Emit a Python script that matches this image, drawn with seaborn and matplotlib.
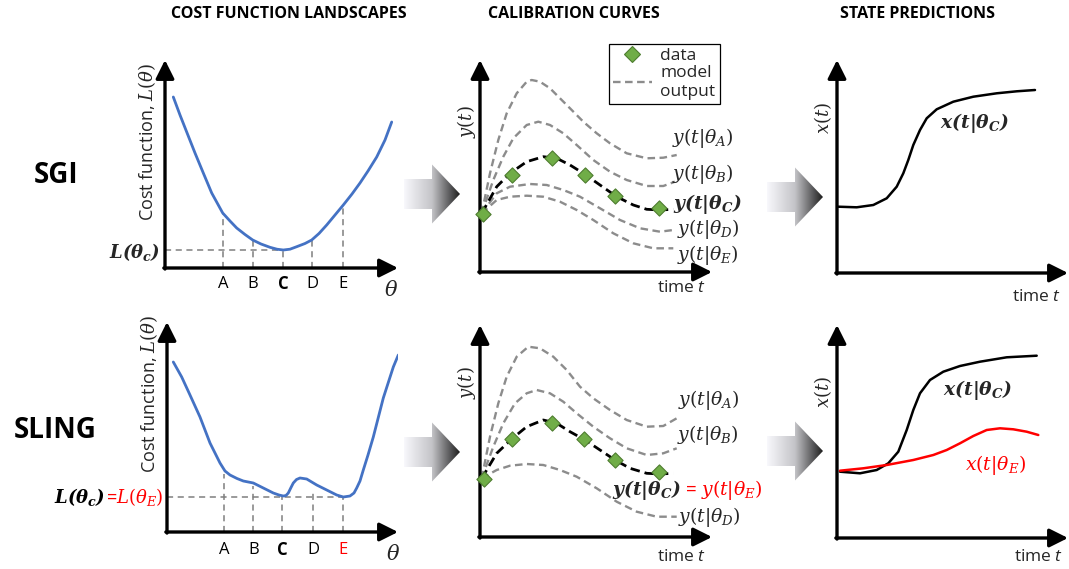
import numpy as np
import matplotlib.pyplot as plt
import seaborn as sns
from matplotlib.colors import LinearSegmentedColormap
from matplotlib.patches import Polygon
from matplotlib.lines import Line2D

sns.set_theme(style='white')
plt.rcParams['font.family'] = ['Open Sans', 'DejaVu Sans']
plt.rcParams['mathtext.fontset'] = 'custom'
plt.rcParams['mathtext.rm'] = 'DejaVu Serif'
plt.rcParams['mathtext.it'] = 'DejaVu Serif:italic'
plt.rcParams['mathtext.bf'] = 'DejaVu Serif:italic:bold'
plt.rcParams['mathtext.sf'] = 'Open Sans:italic'

BLUE = '#4472C4'
GRAY = '#8c8c8c'
GREEN = '#70AD47'
RED = '#ff0000'

# ---------------- data (schematic values) ----------------
# SGI cost landscape
sgi_theta = [0.83, 1.5, 2.17, 3.0, 3.83, 4.67, 5.77, 6.5, 7.17, 8.0, 8.77, 9.6, 10.5, 11.2, 11.83,
             12.5, 13.17, 14.0, 14.67, 15.4, 16.17, 17.0, 17.83, 18.7, 19.5, 20.3, 21.17, 22.0, 22.67]
sgi_cost = [17.1, 15.3, 13.6, 11.5, 9.5, 7.5, 5.5, 4.7, 4.0, 3.35, 2.8, 2.4, 2.07, 1.88, 1.8,
            1.88, 2.13, 2.45, 2.8, 3.45, 4.3, 5.3, 6.3, 7.4, 8.5, 9.7, 11.1, 12.8, 14.6]
sgi_marks = [5.8, 8.8, 11.8, 14.7, 17.8]
sgi_mark_cost = [5.5, 2.8, 1.8, 2.8, 6.3]

# SLING cost landscape
sling_theta = [0.63, 1.47, 2.3, 3.3, 4.3, 5.3, 5.8, 6.3, 7.0, 7.63, 8.63, 9.63, 10.63,
               11.2, 11.63, 11.9, 12.13, 12.4, 12.63, 12.95, 13.3, 13.97, 14.97, 15.97, 16.97, 17.63,
               18.3, 18.7, 18.97, 19.3, 19.63, 20.1, 20.63, 21.63, 22.63, 23.13]
sling_cost = [17.0, 15.5, 13.7, 11.5, 8.9, 6.9, 6.1, 5.7, 5.35, 5.1, 4.9, 4.4, 3.9,
              3.7, 3.6, 3.65, 3.9, 4.45, 4.9, 5.25, 5.4, 5.3, 4.7, 4.2, 3.7, 3.5,
              3.6, 3.9, 4.4, 5.1, 6.2, 7.7, 9.5, 13.4, 16.5, 17.7]
sling_marks = [5.73, 8.63, 11.53, 14.63, 17.6]
sling_mark_cost = [5.8, 4.6, 3.6, 4.1, 3.5]

mark_labels = ['A', 'B', 'C', 'D', 'E']

# SGI calibration curves
t_a1 = [0.17, 1.0, 1.83, 2.67, 3.67, 4.67, 5.17, 6.0, 7.0, 8.0, 9.0, 10.33, 11.67, 13.0, 14.67, 16.67, 18.33, 19.67]
y_a1 = [5.87, 9.87, 13.2, 15.87, 17.87, 19.03, 19.2, 19.03, 18.37, 17.37, 16.37, 15.03, 13.87, 12.87, 11.87, 11.37, 11.43, 11.7]
t_b1 = [0.17, 1.33, 2.33, 3.33, 4.67, 5.83, 7.0, 8.33, 9.67, 11.33, 13.0, 14.67, 16.67, 18.33, 19.5]
y_b1 = [5.87, 9.2, 11.53, 13.37, 14.7, 15.03, 14.7, 13.87, 12.7, 11.2, 10.03, 9.2, 8.6, 8.6, 9.03]
t_c1 = [0.17, 1.67, 3.0, 4.67, 6.33, 7.67, 9.0, 10.33, 12.0, 13.67, 15.33, 16.67, 18.0, 19.33]
y_c1 = [5.87, 8.53, 9.87, 11.03, 11.53, 11.37, 10.7, 9.87, 8.7, 7.53, 6.7, 6.27, 6.2, 6.27]
t_d1 = [0.17, 1.67, 3.0, 5.0, 6.67, 8.33, 10.0, 12.0, 14.0, 16.0, 18.0, 19.33]
y_d1 = [5.87, 7.87, 8.53, 8.8, 8.7, 8.2, 7.53, 6.37, 5.2, 4.37, 4.03, 4.2]
t_e1 = [0.17, 1.67, 3.0, 4.67, 6.33, 8.0, 9.67, 11.33, 13.33, 15.33, 17.33, 19.33]
y_e1 = [5.87, 7.2, 7.53, 7.63, 7.53, 7.03, 6.2, 5.2, 3.87, 2.87, 2.37, 2.37]
t_obs1 = [0.33, 3.23, 7.23, 10.5, 13.5, 17.9]
y_obs1 = [5.77, 9.7, 11.43, 9.7, 7.63, 6.43]

# SLING calibration curves
t_a2 = [0.17, 1.0, 1.83, 2.67, 3.67, 4.83, 6.0, 7.33, 8.67, 10.0, 11.33, 13.0, 14.67, 16.67, 18.33, 19.67]
y_a2 = [5.87, 10.03, 13.37, 16.03, 18.03, 19.03, 18.87, 18.03, 16.7, 15.03, 13.87, 12.7, 11.7, 11.03, 11.1, 11.87]
t_b2 = [0.17, 1.33, 2.33, 3.5, 4.67, 5.67, 7.0, 8.33, 9.67, 11.33, 13.0, 14.67, 16.67, 18.33, 19.67]
y_b2 = [5.87, 9.03, 11.37, 13.37, 14.37, 14.7, 14.37, 13.53, 12.37, 11.03, 9.87, 8.87, 8.2, 8.37, 8.87]
t_c2 = [0.17, 1.67, 3.17, 4.67, 6.33, 7.67, 9.0, 10.5, 12.0, 13.5, 15.0, 16.67, 18.0, 19.33]
y_c2 = [5.87, 8.37, 9.8, 11.03, 11.7, 11.37, 10.53, 9.7, 8.7, 7.7, 6.87, 6.37, 6.3, 6.37]
t_d2 = [0.17, 1.67, 3.0, 4.67, 6.33, 8.0, 9.67, 11.67, 13.67, 15.67, 17.67, 19.67]
y_d2 = [5.87, 6.7, 7.13, 7.3, 7.2, 6.7, 6.03, 4.87, 3.53, 2.53, 2.03, 2.03]
t_obs2 = [0.4, 3.23, 7.17, 10.43, 13.5, 17.9]
y_obs2 = [5.8, 9.77, 11.43, 9.77, 7.7, 6.47]

# state predictions
t_x1 = [0.13, 1.97, 3.63, 4.97, 5.97, 6.63, 7.13, 7.63, 8.3, 8.97, 9.97, 11.63, 13.63, 15.97, 17.97, 19.8]
x_c1 = [6.63, 6.57, 6.8, 7.47, 8.63, 9.97, 11.3, 12.8, 14.3, 15.47, 16.37, 17.13, 17.63, 17.97, 18.17, 18.3]
t_x2 = [0.3, 2.3, 3.97, 5.13, 6.13, 6.97, 7.63, 8.3, 9.3, 10.63, 12.3, 14.3, 16.97, 19.97]
x_c2 = [6.63, 6.47, 6.8, 7.47, 8.63, 10.8, 12.8, 14.47, 15.8, 16.63, 17.2, 17.63, 18.07, 18.23]
t_xe = [0.3, 2.63, 4.97, 7.63, 9.63, 10.97, 12.3, 13.63, 14.97, 16.3, 17.63, 18.97, 20.13]
x_e2 = [6.73, 6.97, 7.3, 7.8, 8.3, 8.8, 9.47, 10.2, 10.8, 10.97, 10.87, 10.63, 10.3]

# ---------------- figure ----------------
FW, FH = 1069, 569
fig = plt.figure(figsize=(FW / 100, FH / 100), dpi=100)

over = fig.add_axes([0, 0, 1, 1])
over.axis('off')

cmap = LinearSegmentedColormap.from_list('g', ['#f8f8fc', '#c4c4c8', '#1e1e1e'])


def grad_arrow(x0, yc):
    pts = [(x0, yc - 15), (x0 + 28, yc - 15), (x0 + 28, yc - 29.5), (x0 + 56, yc),
           (x0 + 28, yc + 29.5), (x0 + 28, yc + 15), (x0, yc + 15)]
    poly = Polygon(pts, closed=True, facecolor='none', edgecolor='none')
    over.add_patch(poly)
    im = over.imshow(np.linspace(0, 1, 256).reshape(1, -1), cmap=cmap, aspect='auto',
                     extent=(x0, x0 + 56, yc + 30, yc - 30), interpolation='bilinear')
    im.set_clip_path(poly)


grad_arrow(404, 194)
grad_arrow(404, 452)
grad_arrow(767, 197)
grad_arrow(767, 451)
over.set_xlim(0, FW)
over.set_ylim(FH, 0)

for x, t in [(289, 'COST FUNCTION LANDSCAPES'), (574, 'CALIBRATION CURVES'), (917, 'STATE PREDICTIONS')]:
    over.text(x, 14, t, ha='center', va='center', fontsize=11.5, fontweight='bold', color='black')
over.text(56, 175, 'SGI', ha='center', va='center', fontsize=20, fontweight='bold', color='black')
over.text(55, 430, 'SLING', ha='center', va='center', fontsize=20, fontweight='bold', color='black')


def panel(x0, y0, xtip, ytip):
    ax = fig.add_axes([x0 / FW, 1 - y0 / FH, (xtip - x0) / FW, (y0 - ytip) / FH])
    ax.set_xlim(0, (xtip - x0) / 10)
    ax.set_ylim(0, (y0 - ytip) / 10)
    ax.axis('off')
    ap = dict(arrowstyle='-|>,head_length=0.7,head_width=0.35', lw=2.4, color='black',
              mutation_scale=16, shrinkA=0, shrinkB=0)
    ax.annotate('', xy=(1, 0), xytext=(-0.005, 0), xycoords='axes fraction', arrowprops=ap, annotation_clip=False)
    ax.annotate('', xy=(0, 1), xytext=(0, -0.005), xycoords='axes fraction', arrowprops=ap, annotation_clip=False)
    return ax


def landscape(ax, theta, cost, marks, mark_cost, lab_y, cost_lab_y, mark_colors, hline_to):
    for m, c in zip(marks, mark_cost):
        ax.plot([m, m], [0, c], color='#7f7f7f', lw=1.1, ls=(0, (4, 3)), zorder=1)
    ax.plot([0, hline_to], [min(mark_cost), min(mark_cost)], color='#7f7f7f', lw=1.1,
            ls=(0, (4, 3)), zorder=1)
    sns.lineplot(x=theta, y=cost, ax=ax, color=BLUE, lw=2.0, zorder=3)
    for m, l, col in zip(marks, mark_labels, mark_colors):
        ax.text(m, lab_y, l, ha='center', va='center', fontsize=12, color=col,
                fontweight='bold' if l == 'C' else 'normal')
    ax.text(22.6, -2.3, r'$\theta$', ha='center', va='center', fontsize=15)
    ax.text(-1.8, cost_lab_y, r'Cost function, $L(\theta)$', rotation=90, ha='center', va='center',
            fontsize=13)


# SGI landscape
ax1 = panel(165, 268, 398, 60)
landscape(ax1, sgi_theta, sgi_cost, sgi_marks, sgi_mark_cost, -1.6, 12.6, ['black'] * 5, sgi_marks[2])
ax1.text(-0.5, 1.6, r'$\mathbf{L(\theta_c)}$', ha='right', va='center', fontsize=13)

# SLING landscape
ax4 = panel(167, 532, 398, 322)
landscape(ax4, sling_theta, sling_cost, sling_marks, sling_mark_cost, -1.8, 13.8,
          ['black'] * 4 + [RED], sling_marks[4])
red_lab = ax4.text(-0.4, 3.5, r'=$L(\theta_E)$', ha='right', va='center', fontsize=13, color=RED)
ax4.annotate(r'$\mathbf{L(\theta_c)}$', xy=(0, 0.5), xycoords=red_lab, ha='right', va='center',
             fontsize=13, color='black')

dash_gray = dict(color=GRAY, lw=1.7, ls=(0, (3.2, 1.9)))


def calib(ax, curves, t_c, y_c, t_obs, y_obs, time_y, ylab_y):
    for t, y in curves:
        sns.lineplot(x=t, y=y, ax=ax, zorder=2, **dash_gray)
    sns.lineplot(x=t_c, y=y_c, ax=ax, color='black', lw=2.0, ls=(0, (3.4, 1.8)), zorder=3)
    sns.scatterplot(x=t_obs, y=y_obs, ax=ax, marker='D', s=60, color=GREEN,
                    edgecolor='#4e7d30', linewidth=0.8, zorder=4, clip_on=False)
    ax.text(20.2, time_y, r'time $\mathsf{t}$', ha='center', va='center', fontsize=12.5)
    ax.text(-1.4, ylab_y, r'$y(t)$', rotation=90, ha='center', va='center', fontsize=13)


ax2 = panel(480, 272, 712, 60)
calib(ax2, [(t_a1, y_a1), (t_b1, y_b1), (t_d1, y_d1), (t_e1, y_e1)], t_c1, y_c1, t_obs1, y_obs1, -1.6, 15.0)
ax2.text(19.2, 13.4, r'$y(t|\theta_A)$', ha='left', va='center', fontsize=13.5)
ax2.text(19.2, 9.8, r'$y(t|\theta_B)$', ha='left', va='center', fontsize=13.5)
ax2.text(19.3, 6.8, r'$\mathbf{y(t|\theta_C)}$', ha='left', va='center', fontsize=13.5)
ax2.text(19.7, 4.3, r'$y(t|\theta_D)$', ha='left', va='center', fontsize=13.5)
ax2.text(19.7, 1.7, r'$y(t|\theta_E)$', ha='left', va='center', fontsize=13.5)
handles = [Line2D([], [], ls='none', marker='D', markersize=8, markerfacecolor=GREEN,
                  markeredgecolor='#4e7d30', markeredgewidth=0.8),
           Line2D([], [], **dash_gray)]
leg = ax2.legend(handles, ['data', 'model\noutput'], loc='upper left',
                 bbox_to_anchor=(609 / FW, 1 - 44 / FH), bbox_transform=fig.transFigure,
                 borderaxespad=0, fancybox=False, framealpha=1, edgecolor='black',
                 fontsize=12.5, handlelength=2.2, handletextpad=0.5, labelspacing=0.05,
                 borderpad=0.25)
leg.get_frame().set_linewidth(0.9)

ax5 = panel(480, 537, 712, 325)
calib(ax5, [(t_a2, y_a2), (t_b2, y_b2), (t_d2, y_d2)], t_c2, y_c2, t_obs2, y_obs2, -2.0, 15.4)
ax5.text(19.8, 13.7, r'$y(t|\theta_A)$', ha='left', va='center', fontsize=13.5)
ax5.text(19.7, 10.2, r'$y(t|\theta_B)$', ha='left', va='center', fontsize=13.5)
ax5.text(19.8, 2.0, r'$y(t|\theta_D)$', ha='left', va='center', fontsize=13.5)
blk = ax5.text(13.2, 4.7, r'$\mathbf{y(t|\theta_C)}$', ha='left', va='center', fontsize=13.5)
ax5.annotate(r' = $y(t|\theta_E)$', xy=(1, 0.5), xycoords=blk, ha='left', va='center',
             fontsize=13.5, color=RED)

# state predictions
ax3 = panel(837, 273, 1068, 60)
sns.lineplot(x=t_x1, y=x_c1, ax=ax3, color='black', lw=1.8)
ax3.text(10.3, 15.0, r'$\mathbf{x(t|\theta_C)}$', ha='left', va='center', fontsize=13.5)
ax3.text(20.0, -2.4, r'time $\mathsf{t}$', ha='center', va='center', fontsize=12.5)
ax3.text(-1.4, 15.5, r'$x(t)$', rotation=90, ha='center', va='center', fontsize=13)

ax6 = panel(837, 538, 1068, 325)
sns.lineplot(x=t_x2, y=x_c2, ax=ax6, color='black', lw=1.8)
sns.lineplot(x=t_xe, y=x_e2, ax=ax6, color=RED, lw=1.8)
ax6.text(10.6, 14.8, r'$\mathbf{x(t|\theta_C)}$', ha='left', va='center', fontsize=13.5)
ax6.text(12.8, 7.3, r'$x(t|\theta_E)$', ha='left', va='center', fontsize=13.5, color=RED)
ax6.text(20.2, -1.9, r'time $\mathsf{t}$', ha='center', va='center', fontsize=12.5)
ax6.text(-1.4, 14.6, r'$x(t)$', rotation=90, ha='center', va='center', fontsize=13)

fig.savefig('out.png', dpi=100)
